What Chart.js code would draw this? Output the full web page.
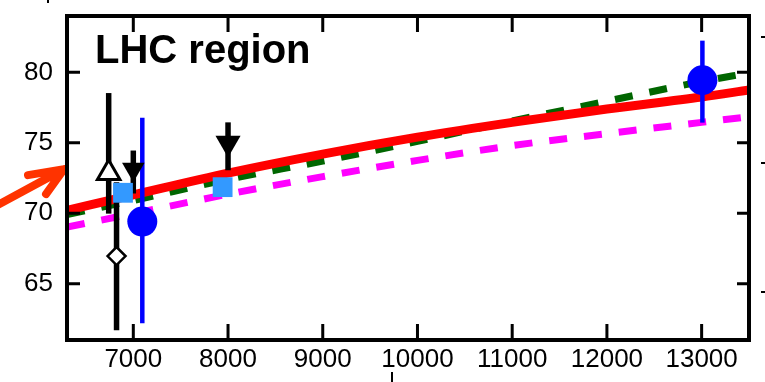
<!DOCTYPE html>
<html>
<head>
<meta charset="utf-8">
<script src="https://cdn.jsdelivr.net/npm/chart.js@4.4.0/dist/chart.umd.min.js"></script>
<style>
  html, body { margin: 0; padding: 0; background: #fff; }
  canvas { display: block; }
</style>
</head>
<body>
<canvas id="chart" width="765" height="382"></canvas>
<script>
// tick labels
const xTicks = [7000, 8000, 9000, 10000, 11000, 12000, 13000];
const yTicks = [65, 70, 75, 80];

// model curves
const curveX = [6300, 7000, 8000, 9000, 10000, 11000, 12000, 13000, 13500];
const redY = [70.2, 71.3, 72.85, 74.2, 75.4, 76.45, 77.4, 78.25, 78.75];
const greenY = [69.9, 70.9, 72.4, 73.7, 75.1, 76.55, 77.95, 79.35, 79.95];
const magentaY = [69.02, 69.97, 71.35, 72.6, 73.75, 74.8, 75.65, 76.45, 76.85];

// measurements
const circleX = [7095, 13008];
const circleY = [69.41, 79.44];
const circleLow = [62.19, 76.43];
const circleHigh = [76.78, 82.25];

const triangleX = [6740];
const triangleY = [72.85];
const triangleLow = [69.97];
const triangleHigh = [78.53];

const diamondX = [6823];
const diamondY = [66.96];
const diamondLow = [61.7];
const diamondHigh = [72.2];

const squareX = [6891, 7943];
const squareY = [71.45, 71.85];

const limitX = [7000, 8000];
const limitHead = [73.13, 74.99];
const limitTop = [74.45, 76.45];
const limitBottom = [71.4, 73.05];

const pointArrowValue = 73.13;

const font = "'Liberation Sans', Arial, Helvetica, sans-serif";
const toPoints = (xs, ys) => xs.map((x, i) => ({ x, y: ys[i] }));

const curveStyle = {
  showLine: true,
  pointRadius: 0,
  fill: false,
  cubicInterpolationMode: "monotone",
  borderCapStyle: "butt",
};

const datasets = [
  { data: toPoints(circleX, circleY), pointStyle: "circle", pointRadius: 15, backgroundColor: "#0000ff", borderWidth: 0 },
  { data: toPoints(diamondX, diamondY), pointStyle: "rectRot", pointRadius: 9, backgroundColor: "#ffffff", borderColor: "#000000", borderWidth: 2.5 },
  { data: toPoints(triangleX, triangleY), pointStyle: "triangle", pointRadius: 13, backgroundColor: "#ffffff", borderColor: "#000000", borderWidth: 3 },
  { data: toPoints(squareX, squareY), pointStyle: "rect", pointRadius: 14, backgroundColor: "#3399ff", borderWidth: 0 },
  { data: toPoints(limitX, limitHead), pointStyle: "triangle", rotation: 180, pointRadius: [13, 14.5], backgroundColor: "#000000", borderWidth: 0 },
  { ...curveStyle, data: toPoints(curveX, redY), borderColor: "#ff0000", borderWidth: 9 },
  { ...curveStyle, data: toPoints(curveX, greenY), borderColor: "#006600", borderWidth: 7, borderDash: [18, 17] },
  { ...curveStyle, data: toPoints(curveX, magentaY), borderColor: "#ff00ff", borderWidth: 7, borderDash: [18, 17] },
];
const lastCurveIndex = 5;

const drawBar = (ctx, chart, x, lo, hi, color, width) => {
  const px = chart.scales.x.getPixelForValue(x);
  ctx.strokeStyle = color;
  ctx.lineWidth = width;
  ctx.beginPath();
  ctx.moveTo(px, chart.scales.y.getPixelForValue(lo));
  ctx.lineTo(px, chart.scales.y.getPixelForValue(hi));
  ctx.stroke();
};

const noPadding = (scale) => {
  scale.paddingTop = 0;
  scale.paddingBottom = 0;
  scale.paddingLeft = 0;
  scale.paddingRight = 0;
};

const decorations = {
  id: "decorations",
  afterDatasetDraw(chart, args) {
    if (args.index !== lastCurveIndex) return;
    const ctx = chart.ctx;
    ctx.save();
    ctx.lineCap = "butt";
    triangleX.forEach((x, i) => drawBar(ctx, chart, x, triangleLow[i], triangleHigh[i], "#000000", 5.5));
    diamondX.forEach((x, i) => drawBar(ctx, chart, x, diamondLow[i], diamondHigh[i], "#000000", 5.5));
    limitX.forEach((x, i) => drawBar(ctx, chart, x, limitBottom[i], limitTop[i], "#000000", 5.5));
    circleX.forEach((x, i) => drawBar(ctx, chart, x, circleLow[i], circleHigh[i], "#0000ff", 4.5));
    ctx.restore();
  },
  afterDraw(chart) {
    const ctx = chart.ctx;
    const area = chart.chartArea;
    const xs = chart.scales.x;
    const ys = chart.scales.y;
    ctx.save();

    // title
    ctx.fillStyle = "#000000";
    ctx.font = `bold 40px ${font}`;
    ctx.textBaseline = "alphabetic";
    ctx.fillText("LHC region", area.left + 28, 63);

    // arrow pointing at the left axis
    const tipX = area.left - 3;
    const tipY = ys.getPixelForValue(pointArrowValue);
    ctx.strokeStyle = "#ff3300";
    ctx.lineWidth = 8;
    ctx.lineCap = "round";
    ctx.lineJoin = "round";
    ctx.beginPath();
    ctx.moveTo(-10, tipY + 40);
    ctx.lineTo(tipX, tipY);
    ctx.moveTo(tipX - 36, tipY + 6);
    ctx.lineTo(tipX, tipY);
    ctx.lineTo(tipX - 18, tipY + 25);
    ctx.stroke();

    // ticks
    ctx.strokeStyle = "#000000";
    ctx.lineWidth = 3;
    ctx.lineCap = "butt";
    ctx.beginPath();
    xTicks.forEach((v) => {
      const p = xs.getPixelForValue(v);
      ctx.moveTo(p, area.bottom);
      ctx.lineTo(p, area.bottom - 16);
      ctx.moveTo(p, area.top);
      ctx.lineTo(p, area.top + 16);
    });
    yTicks.forEach((v) => {
      const p = ys.getPixelForValue(v);
      ctx.moveTo(area.left, p);
      ctx.lineTo(area.left + 13, p);
      ctx.moveTo(area.right, p);
      ctx.lineTo(area.right - 12, p);
    });
    ctx.stroke();

    // frame
    ctx.lineWidth = 4;
    ctx.lineJoin = "miter";
    ctx.strokeRect(area.left, area.top, area.right - area.left, area.bottom - area.top);

    // pieces of the neighbouring panels
    ctx.lineWidth = 2;
    ctx.beginPath();
    [37, 163, 292].forEach((y) => {
      ctx.moveTo(761, y);
      ctx.lineTo(765, y);
    });
    ctx.moveTo(392, 372);
    ctx.lineTo(392, 382);
    ctx.moveTo(48, 0);
    ctx.lineTo(48, 3);
    ctx.stroke();

    ctx.restore();
  },
};

const config = {
  type: "scatter",
  data: { datasets },
  options: {
    responsive: false,
    animation: false,
    devicePixelRatio: 1,
    layout: { padding: { left: 0, right: 10, top: 12, bottom: 0 } },
    plugins: {
      legend: { display: false },
      tooltip: { enabled: false },
    },
    scales: {
      x: {
        type: "linear",
        min: 6300,
        max: 13500,
        afterBuildTicks: (scale) => {
          scale.ticks = xTicks.map((value) => ({ value }));
        },
        afterFit: (scale) => {
          scale.height = 42;
          noPadding(scale);
        },
        grid: { display: false, drawTicks: false },
        border: { display: false },
        ticks: {
          color: "#000000",
          font: { family: font, size: 26 },
          padding: 4,
          maxRotation: 0,
          autoSkip: false,
          callback: (value) => String(value),
        },
      },
      y: {
        type: "linear",
        min: 61,
        max: 84,
        afterBuildTicks: (scale) => {
          scale.ticks = yTicks.map((value) => ({ value }));
        },
        afterFit: (scale) => {
          scale.width = 67;
          noPadding(scale);
        },
        grid: { display: false, drawTicks: false },
        border: { display: false },
        ticks: {
          color: "#000000",
          font: { family: font, size: 26 },
          padding: 14,
          callback: (value) => String(value),
        },
      },
    },
  },
  plugins: [decorations],
};

new Chart(document.getElementById("chart"), config);
</script>
</body>
</html>
